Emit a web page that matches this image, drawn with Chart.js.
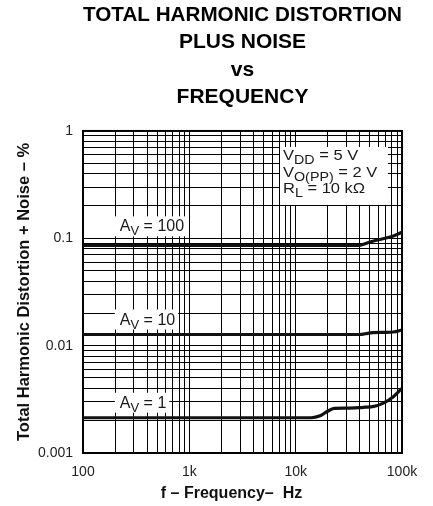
<!DOCTYPE html>
<html>
<head>
<meta charset="utf-8">
<script src="https://cdn.jsdelivr.net/npm/chart.js@4.4.1/dist/chart.umd.min.js"></script>
<style>
  html, body { margin: 0; padding: 0; background: #fff; }
  #wrap { width: 433px; height: 506px; }
</style>
</head>
<body>
<div id="wrap"><canvas id="thd" width="433" height="506"></canvas></div>
<script>
// Values (frequency in Hz, THD+N in %)
const frequencies = [100, 1000, 10000, 14000, 17000, 20000, 23000, 30000, 40000, 45000, 53000, 66000, 83000, 100000];
const thdGain100 = [0.086, 0.086, 0.086, 0.086, 0.086, 0.086, 0.086, 0.086, 0.086, 0.089, 0.094, 0.099, 0.105, 0.114];
const thdGain10 = [0.0127, 0.0127, 0.0127, 0.0127, 0.0127, 0.0127, 0.0127, 0.0127, 0.0127, 0.0129, 0.0132, 0.0133, 0.0134, 0.0140];
const thdGain1 = [0.00213, 0.00213, 0.00213, 0.00213, 0.00222, 0.00245, 0.0026, 0.00262, 0.00265, 0.00267, 0.0027, 0.0029, 0.00335, 0.0040];
const gainNames = ['100', '10', '1'];

const xDecades = [100, 1000, 10000, 100000];
const xDecadeLabels = ['100', '1k', '10k', '100k'];
const yDecades = [0.001, 0.01, 0.1, 1];
const yDecadeLabels = ['0.001', '0.01', '0.1', '1'];

const FONT = '"Liberation Sans", Arial, Helvetica, sans-serif';

// 1..9 grid per decade
function logGrid(decades) {
    const out = [];
    for (let i = 0; i < decades.length - 1; i++) {
        for (let m = 1; m < 10; m++) out.push(m * decades[i]);
    }
    out.push(decades[decades.length - 1]);
    return out;
}

function decadeLabel(value, decades, labels) {
    const idx = decades.findIndex(d => Math.abs(Math.log10(d) - Math.log10(value)) < 1e-9);
    return idx >= 0 ? labels[idx] : '';
}

// draws text pieces, some of them as subscripts; returns end x
function drawRuns(ctx, x, y, runs, size, subSize, subDrop) {
    runs.forEach(r => {
        ctx.font = (r.sub ? subSize : size) + 'px ' + FONT;
        ctx.fillText(r.t, x, r.sub ? y + subDrop : y);
        x += ctx.measureText(r.t).width;
    });
    return x;
}

function runsWidth(ctx, runs, size, subSize) {
    let w = 0;
    runs.forEach(r => {
        ctx.font = (r.sub ? subSize : size) + 'px ' + FONT;
        w += ctx.measureText(r.t).width;
    });
    return w;
}

const overlayPlugin = {
    id: 'overlay',
    beforeDatasetsDraw(chart) {
        const { ctx, chartArea: a, scales: { x, y } } = chart;
        ctx.save();

        // plot frame
        ctx.strokeStyle = '#000';
        ctx.lineWidth = 2;
        ctx.strokeRect(a.left, a.top, a.right - a.left, a.bottom - a.top);

        ctx.fillStyle = '#1a1a1a';
        ctx.textBaseline = 'alphabetic';
        ctx.textAlign = 'left';

        // gain labels above each curve
        const series = [thdGain100, thdGain10, thdGain1];
        const lift = [14, 10, 10];
        series.forEach((vals, i) => {
            const runs = [{ t: 'A' }, { t: 'V', sub: true }, { t: ' = ' + gainNames[i] }];
            const x0 = x.getPixelForValue(222);
            const base = y.getPixelForValue(vals[0]) - lift[i];
            const w = runsWidth(ctx, runs, 16, 13);
            ctx.fillStyle = '#fff';
            ctx.fillRect(x0 - 5, base - 15, w + 8, 20);
            ctx.fillStyle = '#1a1a1a';
            drawRuns(ctx, x0, base, runs, 16, 13, 4);
        });

        // test conditions box
        const cx = x.getPixelForValue(7600);
        const cy = y.getPixelForValue(0.71);
        ctx.fillStyle = '#fff';
        ctx.fillRect(cx - 3, cy, 108, 58);
        ctx.fillStyle = '#1a1a1a';
        const cond = [
            [{ t: 'V' }, { t: 'DD', sub: true }, { t: ' = 5 V' }],
            [{ t: 'V' }, { t: 'O(PP)', sub: true }, { t: ' = 2 V' }],
            [{ t: 'R' }, { t: 'L', sub: true }, { t: ' = 10 kΩ' }]
        ];
        ctx.save();
        ctx.translate(cx, 0);
        ctx.scale(1.1, 1); // original lettering is slightly wide
        cond.forEach((runs, i) => drawRuns(ctx, 0, cy + 13 + i * 16.7, runs, 15, 13, 4));
        ctx.restore();

        // x axis title (sits a little left of the plot centre in the original)
        ctx.fillStyle = '#111';
        ctx.font = 'bold 16px ' + FONT;
        ctx.textAlign = 'center';
        ctx.textBaseline = 'middle';
        ctx.fillText('f – Frequency–  Hz', (a.left + a.right) / 2 - 11, 494);

        ctx.restore();
    }
};

function lineSet(vals) {
    return {
        data: frequencies.map((f, i) => ({ x: f, y: vals[i] })),
        borderColor: '#111',
        borderWidth: 3.2,
        pointRadius: 0,
        cubicInterpolationMode: 'monotone',
        fill: false
    };
}

new Chart(document.getElementById('thd'), {
    type: 'line',
    data: { datasets: [lineSet(thdGain100), lineSet(thdGain10), lineSet(thdGain1)] },
    options: {
        responsive: false,
        animation: false,
        layout: { padding: { left: 0, right: 31, top: 0, bottom: 0 } },
        plugins: {
            legend: { display: false },
            tooltip: { enabled: false },
            title: {
                display: true,
                fullSize: false,
                text: ['TOTAL HARMONIC DISTORTION', 'PLUS NOISE', 'vs', 'FREQUENCY'],
                color: '#000',
                font: { family: FONT, size: 21, weight: 'bold', lineHeight: 1.29 },
                padding: { top: 2, bottom: 20.6 }
            }
        },
        scales: {
            x: {
                type: 'logarithmic',
                min: 100,
                max: 100000,
                afterBuildTicks: s => { s.ticks = logGrid(xDecades).map(v => ({ value: v })); },
                afterFit: s => { s.height = 53; },
                border: { display: false },
                grid: { color: '#000', lineWidth: 1, drawTicks: false },
                ticks: {
                    autoSkip: false,
                    maxRotation: 0,
                    padding: 11,
                    color: '#222',
                    font: { family: FONT, size: 14 },
                    callback: v => decadeLabel(v, xDecades, xDecadeLabels)
                }
            },
            y: {
                type: 'logarithmic',
                min: 0.001,
                max: 1,
                afterBuildTicks: s => { s.ticks = logGrid(yDecades).map(v => ({ value: v })); },
                afterFit: s => { s.width = 83; },
                border: { display: false },
                grid: { color: '#000', lineWidth: 1, drawTicks: false },
                ticks: {
                    autoSkip: false,
                    padding: 10,
                    color: '#222',
                    font: { family: FONT, size: 14 },
                    callback: v => decadeLabel(v, yDecades, yDecadeLabels)
                },
                title: {
                    display: true,
                    text: 'Total Harmonic Distortion + Noise – %',
                    color: '#111',
                    font: { family: FONT, size: 16.5, weight: 'bold' },
                    padding: { top: 15, bottom: 0 }
                }
            }
        }
    },
    plugins: [overlayPlugin]
});
</script>
</body>
</html>
